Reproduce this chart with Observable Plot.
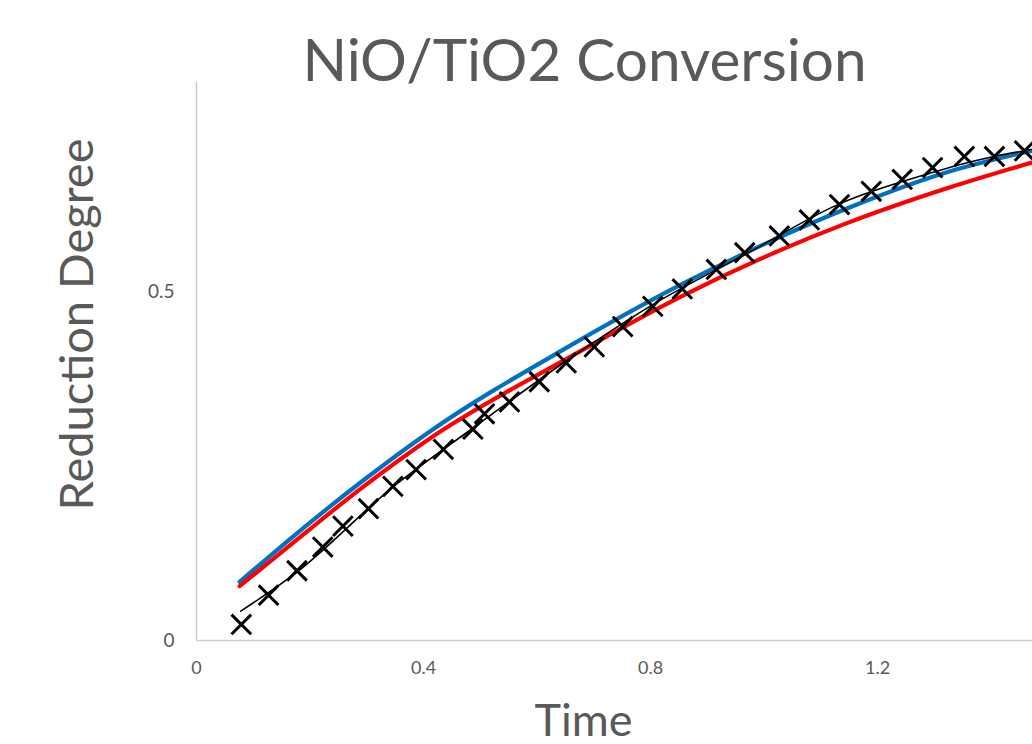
<!DOCTYPE html>
<html>
<head>
<meta charset="utf-8">
<script src="https://cdn.jsdelivr.net/npm/d3@7"></script>
<script src="https://cdn.jsdelivr.net/npm/@observablehq/plot@0.6"></script>
<style>
  html, body { margin: 0; padding: 0; background: #fff; overflow: hidden; }
  #chart { width: 1032px; height: 744px; overflow: hidden; }
</style>
</head>
<body>
<div id="chart"></div>
<script>
// Measured points (Time, Reduction Degree)
const measTime = [0.079, 0.127, 0.177, 0.2225, 0.258, 0.303, 0.346, 0.387, 0.435, 0.487, 0.5075, 0.5515, 0.604, 0.6515, 0.701, 0.751, 0.804, 0.856, 0.916, 0.966, 1.027, 1.080, 1.133, 1.189, 1.2435, 1.297, 1.353, 1.406, 1.459];
const measDeg  = [0.023, 0.065, 0.100, 0.134, 0.164, 0.189, 0.221, 0.245, 0.274, 0.303, 0.325, 0.342, 0.371, 0.398, 0.421, 0.450, 0.479, 0.504, 0.532, 0.556, 0.580, 0.603, 0.625, 0.644, 0.661, 0.678, 0.694, 0.694, 0.702];

// Black thin fit line
const fitTime = [0.078, 0.177, 0.346, 0.488, 0.650, 0.807, 0.966, 1.133, 1.297, 1.353, 1.406, 1.471];
const fitDeg  = [0.042, 0.098, 0.220, 0.305, 0.400, 0.483, 0.553, 0.626, 0.671, 0.684, 0.694, 0.704];

// Blue model line
const blueTime = [0.076, 0.176, 0.293, 0.410, 0.657, 0.851, 1.027, 1.145, 1.321, 1.471];
const blueDeg  = [0.084, 0.153, 0.229, 0.299, 0.422, 0.509, 0.578, 0.619, 0.671, 0.702];

// Red model line
const redTime = [0.076, 0.176, 0.293, 0.410, 0.657, 0.851, 1.027, 1.145, 1.321, 1.471];
const redDeg  = [0.078, 0.144, 0.220, 0.289, 0.406, 0.492, 0.559, 0.598, 0.648, 0.685];

const xTicks = [0, 0.4, 0.8, 1.2];
const yTicks = [0, 0.5];

const titleText = "NiO/TiO2 Conversion";
const xLabel = "Time";
const yLabel = "Reduction Degree";

const meas = measTime.map((t, i) => ({t, v: measDeg[i]}));
const fit = fitTime.map((t, i) => ({t, v: fitDeg[i]}));
const blue = blueTime.map((t, i) => ({t, v: blueDeg[i]}));
const red = redTime.map((t, i) => ({t, v: redDeg[i]}));

const font = "Lato, 'Open Sans', sans-serif";
const grey = "#595959";

const chart = Plot.plot({
  width: 1032,
  height: 744,
  marginLeft: 196,
  marginRight: 0,
  marginTop: 82,
  marginBottom: 104,
  style: {fontFamily: font, color: grey, background: "#fff", maxWidth: "none"},
  x: {domain: [0, 1.4731], label: null},
  y: {domain: [0, 0.8], label: null},
  marks: [
    Plot.axisX({ticks: xTicks, tickSize: 0, tickPadding: 21, fontSize: 18, fill: grey, label: null, tickFormat: d => String(d)}),
    Plot.axisY({ticks: yTicks, tickSize: 0, tickPadding: 22, fontSize: 19, fill: grey, label: null, tickFormat: d => String(d)}),
    Plot.ruleX([0], {stroke: "#c4c4c4", strokeWidth: 1.3}),
    Plot.ruleY([0], {stroke: "#d0d0d0", strokeWidth: 1.3}),
    Plot.line(blue, {x: "t", y: "v", stroke: "#0070C0", strokeWidth: 4.2, curve: "monotone-x"}),
    Plot.line(red, {x: "t", y: "v", stroke: "#FF0000", strokeWidth: 4.2, curve: "monotone-x"}),
    Plot.line(fit, {x: "t", y: "v", stroke: "#000", strokeWidth: 1.6, curve: "monotone-x"}),
    Plot.dot(meas, {x: "t", y: "v", symbol: "times", r: 9, stroke: "#000", strokeWidth: 3}),
    Plot.text([titleText], {frameAnchor: "top-left", dx: 584 - 196, dy: 80 - 82, lineAnchor: "bottom", textAnchor: "middle", fontSize: 58.5, fill: grey, fontFamily: font}),
    Plot.text([xLabel], {frameAnchor: "top-left", dx: 583 - 196, dy: 735 - 82, lineAnchor: "bottom", textAnchor: "middle", fontSize: 45, fill: grey, fontFamily: font}),
    Plot.text([yLabel], {frameAnchor: "top-left", dx: 77 - 196, dy: 324 - 82, rotate: -90, textAnchor: "middle", lineAnchor: "middle", fontSize: 47, fill: grey, fontFamily: font})
  ]
});
document.getElementById("chart").appendChild(chart);
</script>
</body>
</html>
